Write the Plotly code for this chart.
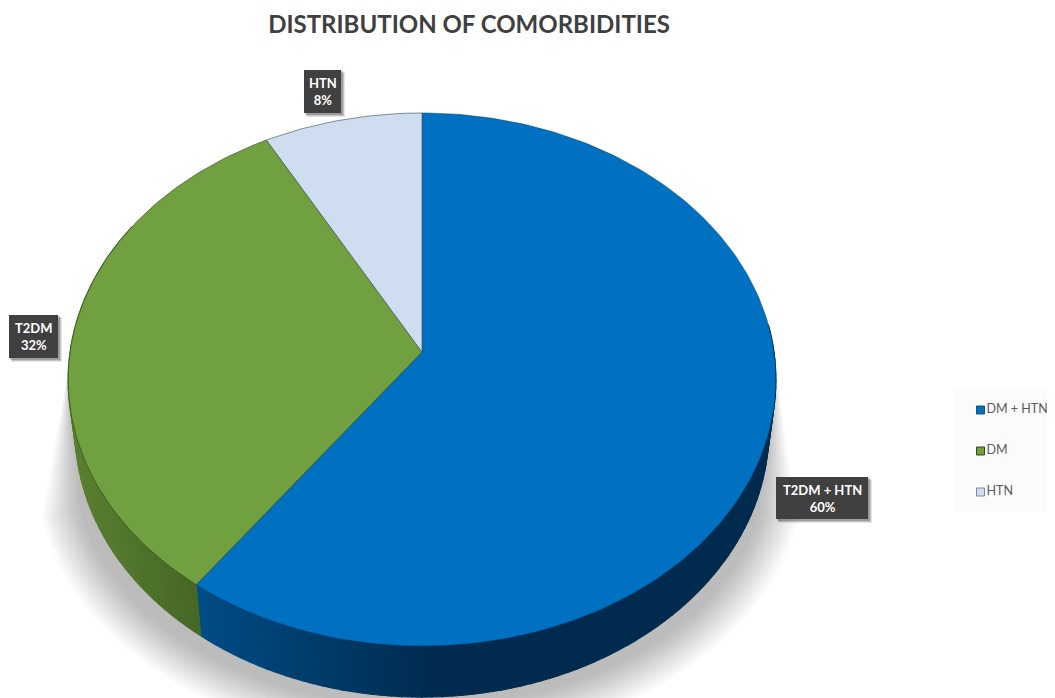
import math
import plotly.graph_objects as go

# ---- data ----
legend_labels = ["DM + HTN", "DM", "HTN"]
slice_labels = ["T2DM + HTN", "T2DM", "HTN"]
shares = [60, 32, 8]

# ---- style ----
TOP = ["#0070C0", "#70A03F", "#CFDDF1"]
EDGE = ["rgba(0,60,110,0.6)", "rgba(45,70,25,0.8)", "rgba(70,80,95,0.8)"]
FONT = "Lato"
W, H = 1055, 698
PAGE = 8  # page margin of the browser body

# projection of the pie disc on to the page
CX, CY = 422.0, 352.0
A, B, K = 263.7, 352.0, -0.1032
DEPTH, SHRINK = 51.0, 0.98


def project(deg, r=1.0):
    t = math.radians(deg)
    X, Y = r * math.sin(t), -r * math.cos(t)
    d = 1 + K * Y
    return CX + B * X / d, CY + A * Y / d


def project_low(deg):
    x, y = project(deg)
    return CX + (x - CX) * SHRINK, y + DEPTH


def mix(c1, c2, f):
    f = max(0.0, min(1.0, f))
    a = [int(c1[i:i + 2], 16) for i in (1, 3, 5)]
    b = [int(c2[i:i + 2], 16) for i in (1, 3, 5)]
    return "rgb(%d,%d,%d)" % tuple(round(a[i] + (b[i] - a[i]) * f) for i in range(3))


fig = go.Figure()

# soft shadow
for i in range(14):
    e = 6 - i * 3.0
    xs, ys = [68], [370]
    for d in range(190, 351, 3):
        t = math.radians(d)
        xs.append(420 + (378 + e) * math.cos(t))
        ys.append(470 - (270 + e) * math.sin(t))
    xs.append(776)
    ys.append(370)
    fig.add_trace(go.Scatter(x=xs, y=ys, mode="lines", fill="toself", line=dict(width=0),
                             fillcolor="rgba(0,0,0,0.018)", hoverinfo="skip", showlegend=False))

# slice boundaries, clockwise from the top
bounds = [0.0]
for v in shares:
    bounds.append(bounds[-1] + v / sum(shares) * 360)

# side wall
STEP = 1.5
d = 84.0
while d < 300:
    d2 = d + STEP
    mid = (d + d2) / 2
    if mid < bounds[1]:
        if d2 > bounds[1]:
            d2 = bounds[1]
        f = (project(mid)[0] - 430) / (200 - 430)
        col = mix("#002B4F", "#004C85", f)
    else:
        if d < bounds[1]:
            d = bounds[1]
        f = (project(mid)[0] - 75) / (200 - 75)
        col = mix("#5A7F30", "#456626", f)
    p1, p2, p3, p4 = project(d), project(d2), project_low(d2), project_low(d)
    fig.add_trace(go.Scatter(x=[p1[0], p2[0], p3[0], p4[0], p1[0]],
                             y=[p1[1], p2[1], p3[1], p4[1], p1[1]],
                             mode="lines", fill="toself", fillcolor=col,
                             line=dict(color=col, width=1.2), hoverinfo="skip", showlegend=False))
    d = d2

# top faces
for i, lab in enumerate(slice_labels):
    a0, a1 = bounds[i], bounds[i + 1]
    n = int(max(2, (a1 - a0)))
    pts = [project(a0 + (a1 - a0) * j / n) for j in range(n + 1)]
    xs = [CX] + [p[0] for p in pts] + [CX]
    ys = [CY] + [p[1] for p in pts] + [CY]
    fig.add_trace(go.Scatter(x=xs, y=ys, mode="lines", fill="toself", fillcolor=TOP[i],
                             line=dict(color=EDGE[i], width=0.8), name=lab,
                             text=f"{lab}: {shares[i]}%", hoverinfo="text", showlegend=False))

# legend panel entries
LEG_Y = [410, 451, 492]
LEG_LINE = ["#1F4E79", "#33481C", "#7F8894"]
for i, lab in enumerate(legend_labels):
    fig.add_trace(go.Scatter(x=[980.5], y=[LEG_Y[i]], mode="markers+text", name=lab,
                             marker=dict(symbol="square", size=8, color=TOP[i],
                                         line=dict(color=LEG_LINE[i], width=1)),
                             text=[lab], textposition="middle right",
                             textfont=dict(family=FONT, size=12.5, color="#595959"),
                             hoverinfo="skip", showlegend=False))

shapes = [dict(type="rect", x0=955, x1=1055, y0=390, y1=512, line_width=0,
               fillcolor="#FBFBFB", layer="below")]

# data labels
BOXES = [(776, 868, 477, 519), (9, 58, 315, 358), (304, 341, 70, 113)]
annotations = []
for i, (x0, x1, y0, y1) in enumerate(BOXES):
    for o, a in ((4, 0.10), (3, 0.14), (2, 0.2)):
        shapes.append(dict(type="rect", x0=x0 + o - 1, x1=x1 + o, y0=y0 + o - 1, y1=y1 + o,
                           line_width=0, fillcolor=f"rgba(0,0,0,{a})"))
    shapes.append(dict(type="rect", x0=x0, x1=x1, y0=y0, y1=y1, line_width=0, fillcolor="#404040"))
    annotations.append(dict(x=(x0 + x1) / 2, y=(y0 + y1) / 2, xref="x", yref="y",
                            text=f"<b>{slice_labels[i]}<br>{shares[i]}%</b>", showarrow=False,
                            font=dict(family=FONT, size=13, color="#FFFFFF")))

fig.update_layout(
    width=W - PAGE, height=H - PAGE, autosize=False,
    margin=dict(l=0, r=0, t=0, b=0),
    paper_bgcolor="#FFFFFF", plot_bgcolor="#FFFFFF",
    showlegend=False, shapes=shapes, annotations=annotations,
    title=dict(text="<b>DISTRIBUTION OF COMORBIDITIES</b>",
               x=(469 - PAGE) / (W - PAGE), y=1 - (25 - PAGE) / (H - PAGE),
               xanchor="center", yanchor="middle",
               font=dict(family=FONT, size=24, color="#404040")),
    xaxis=dict(range=[PAGE, W], visible=False, fixedrange=True),
    yaxis=dict(range=[H, PAGE], visible=False, fixedrange=True),
)
fig.write_html("out.html")
